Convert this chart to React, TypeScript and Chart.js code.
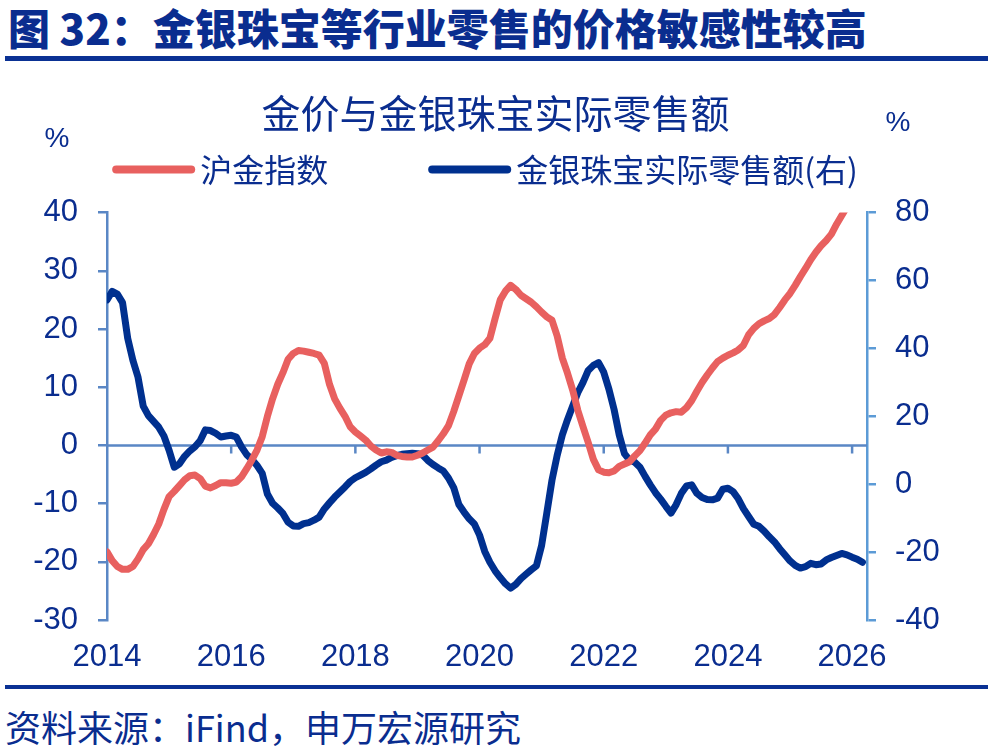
import React, { useEffect, useRef } from "react";
import { Chart, registerables } from "chart.js";

Chart.register(...registerables);

// 沪金指数同比（%，左轴），2014-01 起按月
const goldIndex = [
  -18.3, -19.8, -20.8, -21.3, -21.3, -20.8, -19.5, -17.9, -16.9, -15.3, -13.5, -11.0,
  -8.8, -7.9, -6.9, -5.9, -5.2, -5.1, -5.7, -7.0, -7.3, -6.9, -6.4, -6.4,
  -6.5, -6.3, -5.4, -4.0, -2.5, -0.8, 1.5, 5.0, 8.0, 10.5, 12.5, 14.8,
  15.8, 16.3, 16.2, 16.0, 15.8, 15.5, 14.1, 10.5, 8.0, 6.4, 5.0, 3.2,
  2.3, 1.6, 0.9, -0.1, -0.8, -1.3, -1.1, -1.2, -1.7, -1.9, -2.0, -2.0,
  -1.7, -1.3, -0.8, -0.3, 0.8, 2.0, 3.4, 5.8, 8.5, 11.2, 14.0, 15.8,
  16.7, 17.3, 18.4, 21.8, 25.0, 26.5, 27.5, 26.8, 25.8, 25.2, 24.6, 23.8,
  22.9, 22.1, 21.5, 18.8, 15.0, 12.4, 9.5, 6.0, 3.2, 0.5, -2.4, -4.2,
  -4.6, -4.7, -4.4, -3.6, -3.2, -2.8, -1.8, -0.9, 0.4, 1.8, 2.8, 4.3,
  5.2, 5.6, 5.8, 5.7, 6.5, 7.7, 9.3, 10.8, 12.1, 13.3, 14.4, 15.0,
  15.5, 15.9, 16.4, 17.2, 19.0, 20.1, 20.9, 21.4, 21.8, 22.5, 23.7, 25.0,
  26.1, 27.5, 29.0, 30.4, 31.9, 33.2, 34.3, 35.2, 36.3, 38.0, 39.5, 41.0,
  43.0,
];

// 金银珠宝实际零售额同比（%，右轴），2014-01 起按月
const jewelrySales = [
  54.3, 56.8, 56.0, 53.5, 43.0, 36.5, 31.5, 23.0, 20.2, 18.5, 16.8, 14.2,
  10.0, 5.0, 6.0, 8.2, 9.8, 11.0, 12.8, 16.0, 15.8, 15.0, 13.9, 14.2,
  14.4, 13.9, 11.0, 8.7, 7.3, 5.5, 3.2, -2.9, -5.6, -7.0, -8.6, -11.2,
  -12.3, -12.4, -11.6, -11.3, -10.6, -9.7, -7.3, -5.5, -3.8, -2.3, -0.8, 0.8,
  1.9, 2.7, 3.5, 4.5, 5.6, 6.6, 7.1, 7.9, 8.4, 8.8, 9.0, 9.1,
  9.0, 8.6, 7.0, 5.8, 4.8, 3.9, 1.8, -1.0, -6.0, -8.2, -10.2, -11.7,
  -15.0, -19.8, -23.0, -25.5, -27.5, -29.3, -30.6, -29.5, -27.8, -26.5, -25.2, -24.0,
  -18.0, -8.5, 1.2, 8.5, 14.5, 19.0, 23.0, 27.0, 30.0, 33.5, 35.0, 35.8,
  33.0, 28.0, 22.0, 14.5, 9.0, 7.1, 6.5, 5.0, 2.3, -0.2, -2.5, -4.4,
  -6.5, -8.5, -6.0, -2.7, -0.5, -0.2, -2.7, -3.9, -4.5, -4.6, -4.1, -1.5,
  -1.2, -2.2, -4.3, -7.2, -9.5, -11.8, -12.4, -13.8, -15.5, -17.0, -19.0, -20.8,
  -22.6, -23.9, -24.7, -24.3, -23.3, -23.7, -23.5, -22.3, -21.6, -21.0, -20.4, -20.8,
  -21.5, -22.1, -23.0,
];

// 月份类别 YYYY-MM
const months: string[] = [];
for (let i = 0; i < jewelrySales.length; i++) {
  const y = 2014 + Math.floor(i / 12);
  const m = (i % 12) + 1;
  months.push(`${y}-${m < 10 ? "0" + m : m}`);
}

const yearTicks = [2014, 2016, 2018, 2020, 2022, 2024, 2026];
const leftTicks = [-30, -20, -10, 0, 10, 20, 30, 40];
const rightTicks = [-40, -20, 0, 20, 40, 60, 80];

const HEADING = "图 32：金银珠宝等行业零售的价格敏感性较高";
const CHART_TITLE = "金价与金银珠宝实际零售额";
const SERIES_GOLD = "沪金指数";
const SERIES_JEWELRY = "金银珠宝实际零售额(右)";
const SOURCE = "资料来源：iFind，申万宏源研究";

const NAVY = "#0a2d8f";
const RULE = "#0a3194";
const RED = "#e8605f";
const BLUE = "#00308f";
const AXIS_L = "#5a87c5";
const AXIS_R = "#5c9bd6";
const CJK = '"Noto Sans CJK SC", sans-serif';
const LATIN = '"Liberation Sans", Arial, sans-serif';
const TICK_SIZE = 31;

const toYear = (s: string) => Number(s.slice(0, 4)) + (Number(s.slice(5, 7)) - 1) / 12;

// 零轴及其刻度
const zeroAxis = {
  id: "zeroAxis",
  beforeDatasetsDraw(chart: any) {
    const { ctx, chartArea, scales } = chart;
    const y = scales.y.getPixelForValue(0);
    ctx.save();
    ctx.strokeStyle = AXIS_L;
    ctx.lineWidth = 2.5;
    ctx.beginPath();
    ctx.moveTo(chartArea.left, y);
    ctx.lineTo(chartArea.right, y);
    scales.x.ticks.forEach((t: any) => {
      const px = scales.x.getPixelForValue(t.value);
      if (px > chartArea.left + 2) {
        ctx.moveTo(px, y);
        ctx.lineTo(px, y + 8);
      }
    });
    ctx.stroke();
    ctx.restore();
  },
};

// 图例与单位
const legendRow = {
  id: "legendRow",
  afterDraw(chart: any) {
    const { ctx, chartArea } = chart;
    ctx.save();
    ctx.font = `32px ${CJK}`;
    ctx.textBaseline = "middle";
    ctx.textAlign = "left";
    const sample = 83;
    const gap = 5;
    const itemGap = 100;
    const items = chart.data.datasets.map((ds: any) => ({
      label: ds.label,
      color: ds.borderColor,
      w: ctx.measureText(ds.label).width,
    }));
    const total =
      items.reduce((s: number, it: any) => s + sample + gap + it.w, 0) + itemGap * (items.length - 1);
    let x = (chartArea.left + chartArea.right) / 2 - total / 2 - 2;
    const y = chartArea.top - 43;
    items.forEach((it: any) => {
      ctx.strokeStyle = it.color;
      ctx.lineWidth = 8;
      ctx.lineCap = "round";
      ctx.beginPath();
      ctx.moveTo(x + 4, y);
      ctx.lineTo(x + sample - 4, y);
      ctx.stroke();
      ctx.fillStyle = NAVY;
      ctx.fillText(it.label, x + sample + gap, y);
      x += sample + gap + it.w + itemGap;
    });

    ctx.font = `28px ${LATIN}`;
    ctx.textAlign = "center";
    ctx.fillText("%", chartArea.left - 50, chartArea.top - 73);
    ctx.fillText("%", chartArea.right + 31, chartArea.top - 89);
    ctx.restore();
  },
};

export default function App() {
  const canvasRef = useRef<HTMLCanvasElement | null>(null);

  useEffect(() => {
    const canvas = canvasRef.current;
    if (!canvas) return;
    const xs = months.map(toYear);
    const chart = new Chart(canvas, {
      type: "line",
      data: {
        datasets: [
          {
            label: SERIES_GOLD,
            data: goldIndex.map((v, i) => ({ x: xs[i], y: v })),
            borderColor: RED,
            backgroundColor: RED,
            borderWidth: 7,
            pointRadius: 0,
            tension: 0,
            yAxisID: "y",
            borderJoinStyle: "round",
            borderCapStyle: "round",
          },
          {
            label: SERIES_JEWELRY,
            data: jewelrySales.map((v, i) => ({ x: xs[i], y: v })),
            borderColor: BLUE,
            backgroundColor: BLUE,
            borderWidth: 7,
            pointRadius: 0,
            tension: 0,
            yAxisID: "y1",
            borderJoinStyle: "round",
            borderCapStyle: "round",
          },
        ],
      },
      options: {
        animation: false,
        responsive: false,
        maintainAspectRatio: false,
        layout: { padding: { left: 0, right: 0, top: 0, bottom: 0 } },
        plugins: {
          legend: { display: false },
          tooltip: { enabled: false },
          title: {
            display: true,
            text: CHART_TITLE,
            color: NAVY,
            font: { family: CJK, size: 39, weight: "normal" },
            padding: { top: 19.8, bottom: 76 },
          },
        },
        scales: {
          x: {
            type: "linear",
            min: yearTicks[0],
            max: 2026.24,
            afterBuildTicks: (scale: any) => {
              scale.ticks = yearTicks.map((v) => ({ value: v }));
            },
            afterFit: (scale: any) => {
              scale.height = 63;
            },
            grid: { display: false, drawTicks: false },
            border: { display: false },
            ticks: {
              autoSkip: false,
              maxRotation: 0,
              padding: 19,
              color: NAVY,
              font: { family: LATIN, size: TICK_SIZE },
              callback: (v: any) => String(v),
            },
          },
          y: {
            position: "left",
            min: leftTicks[0],
            max: leftTicks[leftTicks.length - 1],
            afterBuildTicks: (scale: any) => {
              scale.ticks = leftTicks.map((v) => ({ value: v }));
            },
            afterFit: (scale: any) => {
              scale.width = 107;
            },
            grid: { drawOnChartArea: false, drawTicks: true, tickLength: 9, color: AXIS_L, lineWidth: 2.5 },
            border: { display: true, color: AXIS_L, width: 2.5 },
            ticks: {
              padding: 20,
              color: NAVY,
              font: { family: LATIN, size: TICK_SIZE },
              callback: (v: any) => String(v),
            },
          },
          y1: {
            position: "right",
            min: rightTicks[0],
            max: rightTicks[rightTicks.length - 1],
            afterBuildTicks: (scale: any) => {
              scale.ticks = rightTicks.map((v) => ({ value: v }));
            },
            afterFit: (scale: any) => {
              scale.width = 124;
            },
            grid: { drawOnChartArea: false, drawTicks: true, tickLength: 9, color: AXIS_R, lineWidth: 2.5 },
            border: { display: true, color: AXIS_R, width: 2.5 },
            ticks: {
              padding: 19,
              color: NAVY,
              font: { family: LATIN, size: TICK_SIZE },
              callback: (v: any) => String(v),
            },
          },
        },
      } as any,
      plugins: [zeroAxis, legendRow],
    });
    return () => chart.destroy();
  }, []);

  return (
    <div
      style={{
        position: "absolute",
        left: 0,
        top: 0,
        width: 991,
        height: 751,
        background: "#ffffff",
        overflow: "hidden",
      }}
    >
      <div
        style={{
          position: "absolute",
          left: 8,
          top: 6,
          fontFamily: CJK,
          fontWeight: 900,
          fontSize: 42,
          lineHeight: "42px",
          color: NAVY,
          whiteSpace: "nowrap",
        }}
      >
        {HEADING}
      </div>
      <div style={{ position: "absolute", left: 5, top: 56, width: 983, height: 5, background: RULE }} />
      <canvas
        ref={canvasRef}
        width={991}
        height={613}
        style={{ position: "absolute", left: 0, top: 70, width: 991, height: 613 }}
      />
      <div style={{ position: "absolute", left: 5, top: 685, width: 983, height: 4, background: RULE }} />
      <div
        style={{
          position: "absolute",
          left: 5,
          top: 705,
          fontFamily: CJK,
          fontSize: 36,
          lineHeight: "42px",
          color: NAVY,
          whiteSpace: "nowrap",
        }}
      >
        {SOURCE}
      </div>
    </div>
  );
}
